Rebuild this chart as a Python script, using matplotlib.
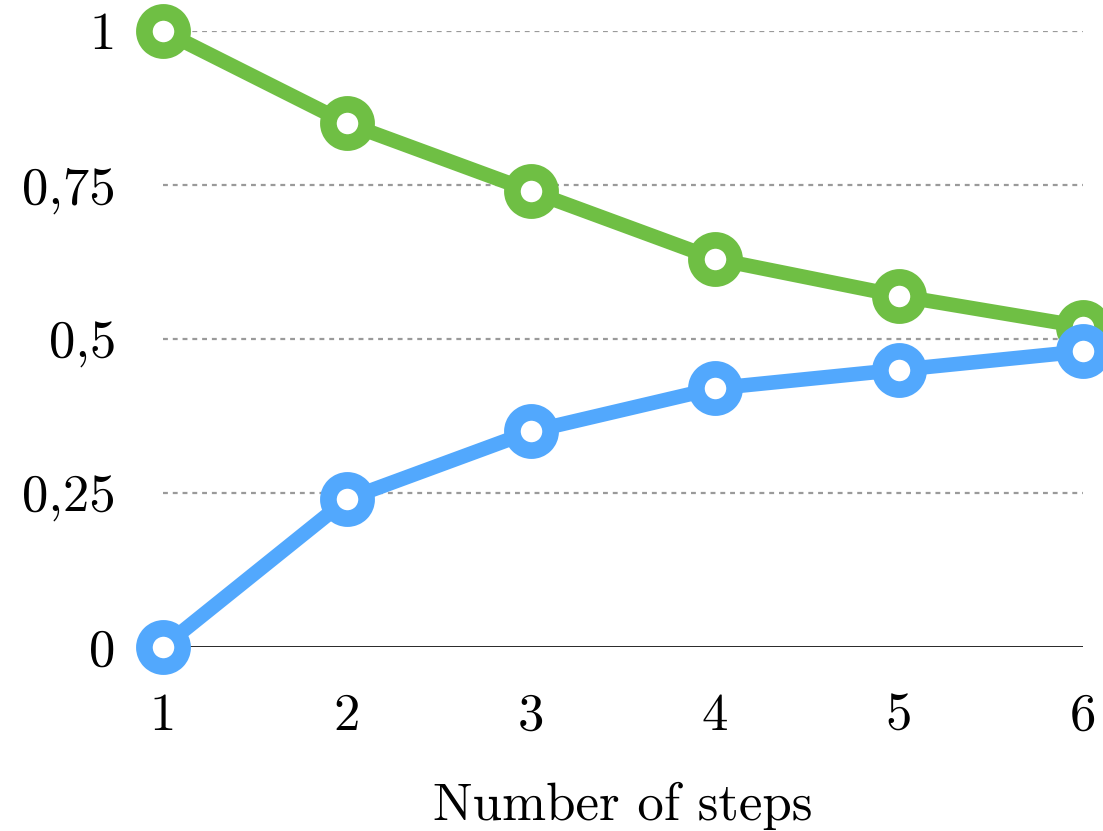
import matplotlib.pyplot as plt

steps = [1, 2, 3, 4, 5, 6]
green_values = [1.0, 0.85, 0.74, 0.63, 0.57, 0.52]
blue_values = [0.0, 0.24, 0.35, 0.42, 0.45, 0.48]

y_ticks = [0, 0.25, 0.5, 0.75, 1]
y_tick_labels = ["0", "0,25", "0,5", "0,75", "1"]

plt.rcParams['font.family'] = ['cmr10', 'DejaVu Serif']
plt.rcParams['axes.formatter.use_mathtext'] = True

fig = plt.figure(figsize=(11.03, 8.31), dpi=100)
ax = fig.add_axes([0.1478, 0.2214, 0.8341, 0.7413])

# dashed guides and the solid zero line
for y in y_ticks[1:]:
    ax.axhline(y, color='#9a9a9a', linewidth=1.6, linestyle=(0, (2.2, 2.2)), zorder=1)
ax.axhline(0, color='black', linewidth=1.9, zorder=1)

style = dict(linewidth=10.5, marker='o', markersize=27.5, markeredgewidth=12,
             markerfacecolor='white', clip_on=False)
ax.plot(steps, green_values, color='#6fbf44', markeredgecolor='#6fbf44', zorder=3, **style)
ax.plot(steps, blue_values, color='#52a8fd', markeredgecolor='#52a8fd', zorder=4, **style)

ax.set_xlim(1, 6)
ax.set_ylim(0, 1)
ax.set_xticks(steps)
ax.set_xticklabels([str(s) for s in steps])
ax.set_yticks(y_ticks)
ax.set_yticklabels(y_tick_labels)
ax.tick_params(axis='both', length=0, labelsize=38)
ax.tick_params(axis='y', pad=34)
ax.tick_params(axis='x', pad=33)
for spine in ax.spines.values():
    spine.set_visible(False)

ax.set_xlabel('Number of steps', fontsize=38, labelpad=30)

fig.savefig('out.png', dpi=100)
